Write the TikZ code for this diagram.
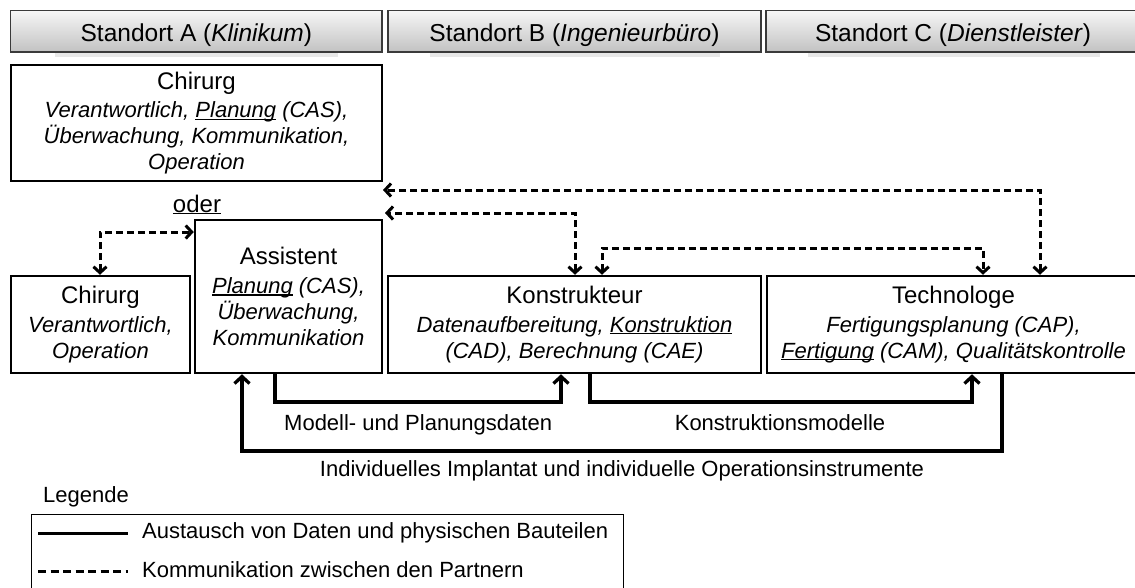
\documentclass[tikz,border=0pt]{standalone}
\usepackage{fontspec}
\setmainfont{Liberation Sans}
\usetikzlibrary{arrows.meta}
\definecolor{hdtop}{HTML}{F6F6F6}
\definecolor{hdbot}{HTML}{C2C2C2}
\definecolor{hdline}{HTML}{3A3A3A}
\newcommand\ulx[1]{\setbox0\hbox{#1}\rlap{\rule[-2.3pt]{\wd0}{1.4pt}}\box0\relax}
\newcommand\ttl[1]{{\fontsize{24}{26}\selectfont #1}}
\tikzset{
  hdr/.style={draw=hdline, line width=1.3pt, top color=hdtop, bottom color=hdbot,
    minimum height=41.3pt, inner sep=0pt, text height=19.5pt, text depth=0pt,
    font=\fontsize{24.5}{28}\selectfont},
  role/.style={draw=black, line width=2.5pt, inner sep=0pt, align=center,
    font=\fontsize{22}{26}\selectfont},
  comm/.style={line width=3pt, dash pattern=on 7pt off 4pt,
    {Straight Barb[length=6pt,width=13pt]}-{Straight Barb[length=6pt,width=13pt]}},
  flow/.style={line width=3.3pt, -{Straight Barb[length=7pt,width=15pt]}},
  lbl/.style={font=\fontsize{22}{26}\selectfont, inner sep=0pt},
}
\begin{document}
\begin{tikzpicture}[x=1pt,y=-1pt]
\useasboundingbox (0,0) rectangle (1135,587);
\clip (0,0) rectangle (1135,587);
% header shadows
\fill[black, opacity=0.09] (55,20) rectangle (338,56.5);
\fill[black, opacity=0.09] (430,20) rectangle (720,56.5);
\fill[black, opacity=0.09] (808,20) rectangle (1100,56.5);
% headers
\node[hdr, minimum width=371.3pt] (hA) at (196.35,31.3) {Standort A (\textit{Klinikum})};
\node[hdr, minimum width=373pt] (hB) at (574.5,31.3) {Standort B (\textit{Ingenieurbüro})};
\node[hdr, minimum width=374pt] (hC) at (953,31.3) {Standort C (\textit{Dienstleister})};
% role boxes
\node[role, minimum width=371pt, minimum height=116pt] (chirA) at (196.5,123)
  {\ttl{Chirurg}\\[2.5pt] \textit{Verantwortlich, \ulx{Planung} (CAS),}\\ \textit{Überwachung, Kommunikation,}\\ \textit{Operation}};
\node[role, minimum width=179pt, minimum height=97pt] (chirB) at (100.5,324.5)
  {\ttl{Chirurg}\\[2.5pt] \textit{Verantwortlich,}\\ \textit{Operation}};
\node[role, minimum width=187pt, minimum height=153pt] (assist) at (288.5,296.5)
  {\ttl{Assistent}\\[2.5pt] \textit{\ulx{Planung} (CAS),}\\ \textit{Überwachung,}\\ \textit{Kommunikation}};
\node[role, minimum width=373pt, minimum height=97pt] (konstr) at (574.5,324.5)
  {\ttl{Konstrukteur}\\[2.5pt] \textit{Datenaufbereitung, \ulx{Konstruktion}}\\ \textit{(CAD), Berechnung (CAE)}};
\node[role, minimum width=373pt, minimum height=97pt] (techno) at (953.5,324.5)
  {\ttl{Technologe}\\[2.5pt] \textit{Fertigungsplanung (CAP),}\\ \textit{\ulx{Fertigung} (CAM), Qualitätskontrolle}};
% oder
\node[font=\fontsize{24}{28}\selectfont, anchor=base, inner sep=0pt] (oder) at (197,212) {\ulx{oder}};
% free ends / bends
\coordinate (cA) at (383,190);
\coordinate (cB) at (385,213);
\coordinate (cC) at (790,248);
\coordinate (cD) at (420,402);
\coordinate (cE) at (780,402);
\coordinate (cF) at (622,451);
% communication
\draw[comm] ([xshift=86.5pt]techno.north) |- (cA);
\draw[comm] ([xshift=0.5pt]konstr.north) |- (cB);
\draw[comm] ([xshift=27.5pt]konstr.north) |- (cC) -| ([xshift=29.5pt]techno.north);
\draw[comm] ([xshift=-0.5pt]chirB.north) |- ([yshift=64.5pt]assist.west);
% flows
\draw[flow] ([xshift=-13.5pt]assist.south) |- (cD) -| ([xshift=-13.5pt]konstr.south);
\draw[flow] ([xshift=15.5pt]konstr.south) |- (cE) -| ([xshift=18.5pt]techno.south);
\draw[flow] ([xshift=48.5pt]techno.south) |- (cF) -| ([xshift=-46.5pt]assist.south);
% labels
\node[lbl, anchor=base west] (l1) at (284,430) {Modell- und Planungsdaten};
\node[lbl, anchor=base] (l2) at (780,430) {Konstruktionsmodelle};
\node[lbl, anchor=base] (l3) at (622,476) {Individuelles Implantat und individuelle Operationsinstrumente};
% legend
\node[lbl, anchor=base west] (leg) at (43,502) {Legende};
\draw[line width=1pt] (31,514) rectangle (623,600);
\coordinate (s1) at (38,533); \coordinate (e1) at (128,533);
\coordinate (s2) at (38,571); \coordinate (e2) at (128,571);
\draw[line width=3pt] (s1) -- (e1);
\draw[line width=3pt, dash pattern=on 8pt off 4.5pt] (s2) -- (e2);
\node[lbl, anchor=base west] (t1) at (142,538) {Austausch von Daten und physischen Bauteilen};
\node[lbl, anchor=base west] (t2) at (142,577) {Kommunikation zwischen den Partnern};
\end{tikzpicture}
\end{document}
